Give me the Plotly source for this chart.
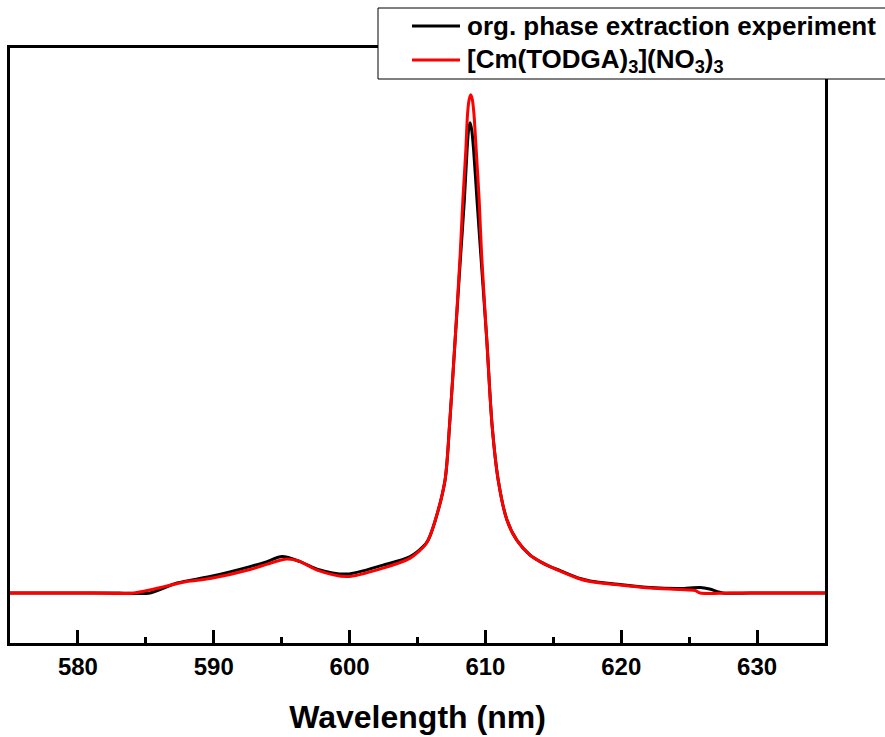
import plotly.graph_objects as go

# Black: org. phase extraction experiment
wl_org = [575.0, 579.0, 583.0, 585.31, 587.30, 589.73, 592.67, 593.93, 595.03, 596.36, 597.61, 599.82,
          602.47, 604.46, 605.41, 605.78, 606.30, 607.03, 607.36, 607.77, 608.18, 608.45,
          608.65, 608.76, 608.87, 608.99, 609.13, 609.38, 609.66, 610.10, 610.49, 610.94,
          611.58, 612.31, 613.29, 614.03, 614.76, 615.50, 616.97, 617.71, 619.92, 622.13,
          624.34, 625.81, 626.50, 627.50, 629.5, 632.0, 635.0]
int_org = [0.0, 0.0, 0.0, 0.0, 0.020, 0.033, 0.053, 0.063, 0.073, 0.063, 0.048, 0.038,
           0.056, 0.073, 0.093, 0.106, 0.145, 0.227, 0.337, 0.508, 0.679, 0.789,
           0.890, 0.930, 0.944, 0.930, 0.890, 0.789, 0.679, 0.508, 0.337, 0.227,
           0.147, 0.106, 0.076, 0.063, 0.053, 0.045, 0.029, 0.024, 0.017, 0.011,
           0.009, 0.011, 0.008, 0.0, 0.0, 0.0, 0.0]

# Red: [Cm(TODGA)3](NO3)3
wl_cm = [575.0, 578.0, 581.0, 584.13, 586.56, 588.00, 589.73, 592.67, 593.93, 595.40, 596.36, 597.61,
         599.82, 602.47, 604.46, 605.56, 605.78, 606.30, 607.03, 607.36, 607.77, 608.14,
         608.34, 608.56, 608.68, 608.80, 608.92, 609.04, 609.16, 609.32, 609.54, 609.72,
         610.10, 610.49, 610.94, 611.58, 612.31, 613.29, 614.03, 614.76, 615.50, 616.97,
         617.71, 619.92, 622.13, 624.34, 625.44, 625.81, 628.0, 631.0, 635.0]
int_cm = [0.0, 0.0, 0.0, 0.0, 0.014, 0.023, 0.029, 0.047, 0.058, 0.068, 0.063, 0.046,
          0.033, 0.050, 0.070, 0.096, 0.106, 0.145, 0.227, 0.337, 0.508, 0.679,
          0.789, 0.890, 0.960, 0.990, 1.000, 0.990, 0.960, 0.890, 0.789, 0.679,
          0.508, 0.337, 0.227, 0.147, 0.106, 0.076, 0.063, 0.053, 0.044, 0.028,
          0.023, 0.016, 0.010, 0.007, 0.005, 0.0, 0.0, 0.0, 0.0]

series_names = ["org. phase extraction experiment",
                "[Cm(TODGA)<sub>3</sub>](NO<sub>3</sub>)<sub>3</sub>"]
series_colors = ["#000000", "#ff0000"]

x_ticks = [580, 590, 600, 610, 620, 630]
x_ticklabels = ["580", "590", "600", "610", "620", "630"]

FONT = "Liberation Sans, Arial, sans-serif"

# plot-area geometry (px) used to place the manual legend
W, H = 885, 737
ML, MR, MT, MB = 10, 60, 48, 94
PW, PH = W - ML - MR, H - MT - MB


def px_x(p):
    return (p - ML) / PW


def px_y(p):
    return (H - MB - p) / PH


fig = go.Figure()
for xs, ys, nm, col in [(wl_org, int_org, series_names[0], series_colors[0]),
                        (wl_cm, int_cm, series_names[1], series_colors[1])]:
    fig.add_trace(go.Scatter(x=xs, y=ys, mode="lines",
                             line=dict(color=col, width=3, shape="spline", smoothing=0.8),
                             name=nm, showlegend=False))

# manual legend box (overlapping the top frame as in the original)
shapes = [dict(type="rect", xref="paper", yref="paper",
               x0=px_x(378), x1=px_x(892), y0=px_y(79), y1=px_y(8),
               fillcolor="white", line=dict(color="black", width=1), layer="above")]
annotations = []
row_y = [26, 60]
for i in range(2):
    shapes.append(dict(type="line", xref="paper", yref="paper",
                       x0=px_x(412), x1=px_x(460), y0=px_y(row_y[i]), y1=px_y(row_y[i]),
                       line=dict(color=series_colors[i], width=3), layer="above"))
    annotations.append(dict(xref="paper", yref="paper", x=px_x(465), y=px_y(row_y[i]),
                            xanchor="left", yanchor="middle", showarrow=False,
                            text="<b>" + series_names[i] + "</b>",
                            font=dict(family=FONT, size=26, color="black")))

fig.update_layout(
    width=W, height=H,
    margin=dict(l=ML, r=MR, t=MT, b=MB, autoexpand=False),
    paper_bgcolor="white", plot_bgcolor="white",
    font=dict(family=FONT, color="black"),
    showlegend=False,
    shapes=shapes, annotations=annotations,
    xaxis=dict(
        range=[575, 635], showgrid=False, zeroline=False,
        showline=True, linecolor="black", linewidth=3, mirror=True,
        ticks="inside", ticklen=13, tickwidth=2.5, tickcolor="black",
        tickvals=x_ticks, ticktext=x_ticklabels,
        tickfont=dict(family=FONT, size=24, color="black", weight="bold"),
        minor=dict(ticks="inside", ticklen=6, tickwidth=2.5, tickcolor="black", dtick=5, showgrid=False),
        title=dict(text="Wavelength (nm)", standoff=27,
                   font=dict(family=FONT, size=32, color="black", weight="bold")),
        automargin=False,
    ),
    yaxis=dict(
        range=[-0.1004, 1.094], showgrid=False, zeroline=False,
        showline=True, linecolor="black", linewidth=3, mirror=True,
        ticks="", showticklabels=False, automargin=False,
    ),
)

fig.write_html("out.html")
